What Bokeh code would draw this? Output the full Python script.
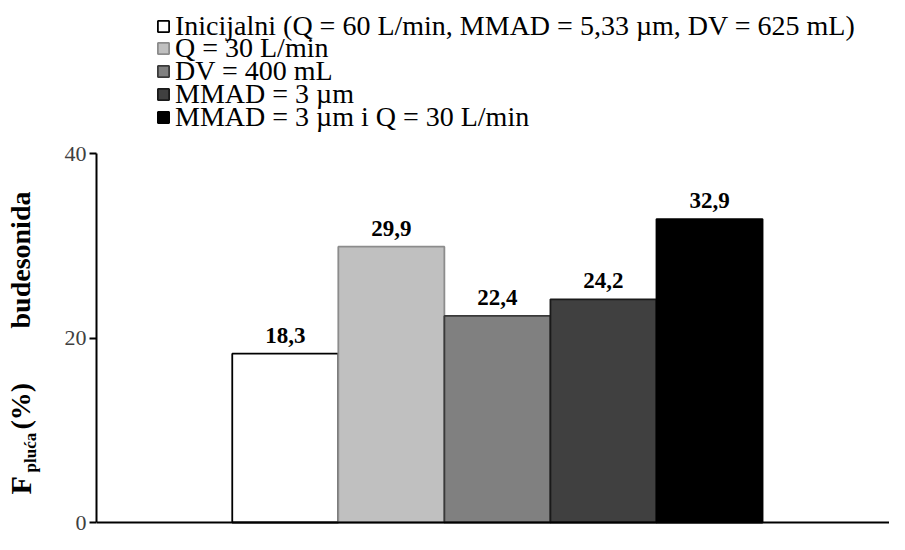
from bokeh.plotting import figure
from bokeh.layouts import row
from bokeh.models import (ColumnDataSource, Legend, LegendItem, LabelSet, Label,
                          Span, FixedTicker, Range1d)
from bokeh.embed import file_html
from bokeh.resources import INLINE

# ---- data ----
series_labels = [
    "Inicijalni (Q = 60 L/min, MMAD = 5,33 µm, DV = 625 mL)",
    "Q = 30 L/min",
    "DV = 400 mL",
    "MMAD = 3 µm",
    "MMAD = 3 µm i Q = 30 L/min",
]
bar_positions = [1, 2, 3, 4, 5]
values = [18.3, 29.9, 22.4, 24.2, 32.9]
value_text = ["18,3", "29,9", "22,4", "24,2", "32,9"]
fill_colors = ["#ffffff", "#c0c0c0", "#808080", "#404040", "#000000"]
line_colors = ["#000000", "#8c8c8c", "#3a3a3a", "#1a1a1a", "#000000"]
y_ticks = [0, 20, 40]
y_title_parts = ["F", "pluća", "(%)", "budesonida"]

SERIF = "Liberation Serif"
H = 534

# ---- left strip holding the y-axis title (with subscript) ----
t = figure(width=56, height=H, output_backend="svg", toolbar_location=None,
           x_range=Range1d(0, 1), y_range=Range1d(0, 1),
           x_axis_location=None, y_axis_location=None,
           min_border_left=0, min_border_right=0, min_border_top=0, min_border_bottom=0)
t.outline_line_color = None
t.grid.visible = False

def ylab(text, x, y, size):
    t.add_layout(Label(x=x, y=y, x_units="screen", y_units="screen", text=text,
                       angle=1.5708, text_align="left", text_baseline="alphabetic",
                       text_font=SERIF, text_font_size=size, text_font_style="bold",
                       text_color="#000000"))

ylab(y_title_parts[0], 20, 40, "30px")
ylab(y_title_parts[1], 30, 62, "17px")
ylab(y_title_parts[2], 20, 105, "28px")
ylab(y_title_parts[3], 20, 206, "28px")

# ---- main chart ----
source = ColumnDataSource(dict(x=bar_positions, top=values, txt=value_text,
                               fill=fill_colors, line=line_colors))

p = figure(width=833, height=H, output_backend="svg", toolbar_location=None,
           x_range=Range1d(-0.780, 6.697), y_range=Range1d(-1.30, 56.59),
           x_axis_location=None, min_border_left=40, min_border_right=0,
           min_border_top=0, min_border_bottom=0)
p.outline_line_color = None
p.grid.visible = False

r = p.vbar(x="x", top="top", bottom=0, width=1.0, source=source,
           fill_color="fill", line_color="line", line_width=1.8)

# category axis line
p.add_layout(Span(location=0, dimension="width", line_color="#000000", line_width=2))

ya = p.yaxis[0]
ya.ticker = FixedTicker(ticks=y_ticks)
ya.bounds = (0, 40)
ya.axis_line_width = 2
ya.axis_line_color = "#000000"
ya.major_tick_line_width = 2
ya.major_tick_line_color = "#000000"
ya.major_tick_out = 7
ya.major_tick_in = 0
ya.minor_tick_line_color = None
ya.major_label_standoff = 3
ya.major_label_text_font = SERIF
ya.major_label_text_font_size = "22px"
ya.major_label_text_color = "#404040"

p.add_layout(LabelSet(x="x", y="top", text="txt", source=source, y_offset=11,
                      text_align="center", text_baseline="alphabetic",
                      text_font=SERIF, text_font_size="23px",
                      text_font_style="bold", text_color="#000000"))

# legend: one single-item legend per row so rows can sit 23 px apart
legend_rows_y = [492, 470, 447, 424, 401]
for i, lab in enumerate(series_labels):
    lg = Legend(items=[LegendItem(label=lab, renderers=[r], index=i)],
                location=(60, legend_rows_y[i]), orientation="vertical",
                label_text_font=SERIF, label_text_font_size="28px",
                label_text_color="#000000", glyph_width=14, glyph_height=14,
                label_height=23, label_standoff=5, spacing=0, padding=0,
                margin=0, border_line_color=None, background_fill_alpha=0)
    p.add_layout(lg)

layout = row(t, p)
open("out.html", "w").write(file_html(layout, INLINE))
